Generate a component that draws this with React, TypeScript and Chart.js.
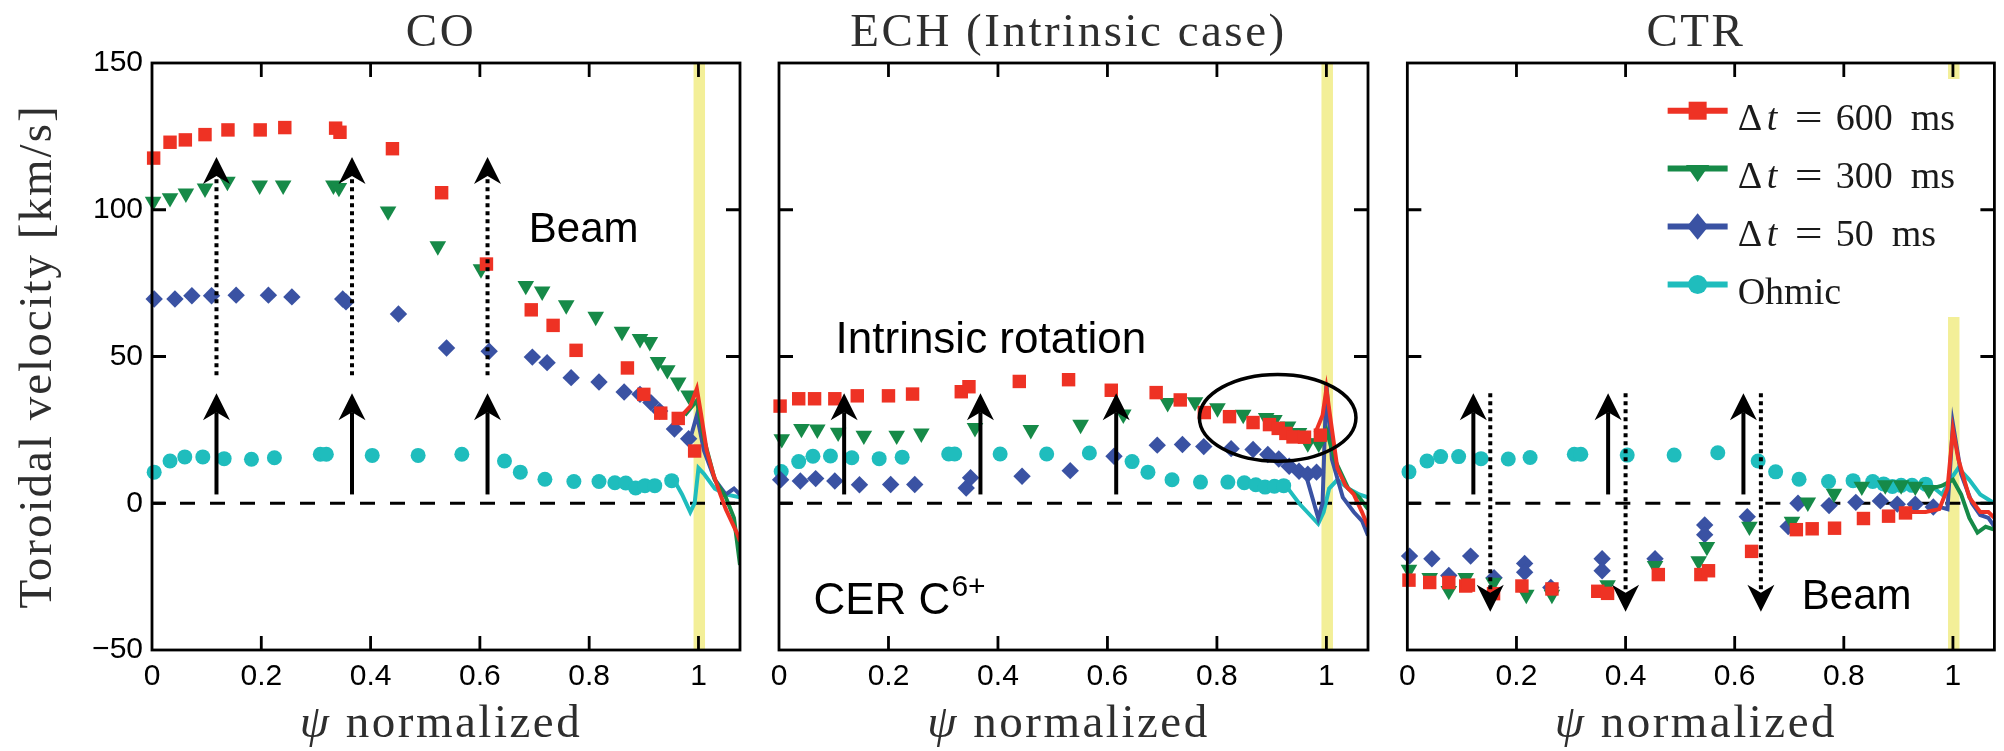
import React, { useEffect, useRef } from 'react';
import { Chart, registerables } from 'chart.js';

Chart.register(...registerables);

// ---------------- axes ----------------
const X_MIN = 0;
const X_MAX = 1.076;
const Y_MIN = -50;
const Y_MAX = 150;
const X_STEP = 0.2;
const Y_STEP = 50;
const X_TICKS = [0, 0.2, 0.4, 0.6, 0.8, 1];
const Y_TICKS = [-50, 0, 50, 100, 150];
const SEPARATRIX_BAND = [0.991, 1.012];

// ---------------- text ----------------
const PANEL_TITLES = ['CO', 'ECH (Intrinsic case)', 'CTR'];
const X_TITLE_SYMBOL = 'ψ';
const X_TITLE = ' normalized';
const Y_TITLE = 'Toroidal velocity [km/s]';
const LEGEND_VALUES = ['600', '300', '50'];
const LEGEND_OHMIC = 'Ohmic';

// ---------------- CO panel ----------------
const CO_600 = [[0.003,117.6],[0.033,123],[0.061,123.8],[0.097,125.6],[0.139,127.2],[0.198,127.2],[0.243,128],[0.336,127.8],[0.344,126.4],[0.44,120.8],[0.53,105.8],[0.612,81.5],[0.694,65.9],[0.734,60.6],[0.776,52.1],[0.87,46.1],[0.9,37.1],[0.931,30.7],[0.963,28.9],[0.993,17.8]];
const CO_300 = [[0.002,102.8],[0.033,104],[0.062,105.6],[0.097,107.3],[0.138,109.6],[0.197,108.3],[0.24,108.3],[0.332,108.3],[0.342,107.5],[0.432,99.5],[0.523,87.6],[0.602,79.8],[0.684,74.1],[0.714,72.2],[0.758,67.5],[0.812,63.6],[0.86,58.5],[0.893,56],[0.911,55],[0.926,48.2],[0.943,45.4],[0.963,41.2],[0.982,36.8]];
const CO_50 = [[0.004,69.6],[0.042,69.6],[0.073,70.7],[0.109,70.7],[0.154,70.9],[0.213,70.9],[0.256,70.3],[0.349,69.6],[0.355,68.6],[0.451,64.5],[0.539,52.9],[0.617,51.8],[0.696,49.8],[0.723,47.9],[0.767,42.8],[0.818,41.3],[0.864,37.9],[0.893,37.1],[0.913,34.3],[0.929,31.4],[0.956,25.3],[0.982,22]];
const CO_OHM = [[0.004,10.6],[0.033,14.4],[0.06,15.8],[0.093,15.8],[0.132,15.2],[0.182,15],[0.224,15.5],[0.308,16.7],[0.319,16.7],[0.403,16.3],[0.487,16.3],[0.567,16.7],[0.645,14.4],[0.674,10.6],[0.719,8.2],[0.772,7.4],[0.818,7.4],[0.847,7],[0.867,6.9],[0.885,5.2],[0.902,6],[0.92,6],[0.951,7.7]];
const CO_600_EDGE = [[0.965,29],[0.985,33],[0.997,39],[1.005,30],[1.015,18],[1.027,10],[1.04,3],[1.05,-2],[1.06,-6],[1.07,-10],[1.076,-13]];
const CO_300_EDGE = [[0.975,30],[0.997,35],[1.01,22],[1.03,8],[1.05,2],[1.065,-5],[1.076,-21]];
const CO_50_EDGE = [[0.985,22],[0.997,30],[1.01,18],[1.03,8],[1.05,3],[1.065,5],[1.076,3]];
const CO_OHM_EDGE = [[0.955,8],[0.97,3],[0.985,-3],[0.993,0],[1.0,12],[1.01,10],[1.03,5],[1.05,3],[1.076,2]];

// ---------------- ECH panel ----------------
const ECH_600 = [[0.002,33.1],[0.036,35.6],[0.065,35.6],[0.102,35.6],[0.143,36.6],[0.2,36.6],[0.244,37.2],[0.333,38],[0.347,39.7],[0.439,41.5],[0.529,42.1],[0.607,38.5],[0.689,37.7],[0.733,35.2],[0.777,30.9],[0.823,29.5],[0.866,27.5],[0.896,26.8],[0.912,25.5],[0.926,23.8],[0.939,22.6],[0.96,22.5],[0.989,23.2]];
const ECH_300 = [[0.005,21.9],[0.041,25.4],[0.07,25.2],[0.108,24.1],[0.155,23.1],[0.215,23.1],[0.26,23.8],[0.358,25.7],[0.46,25],[0.551,26.8],[0.629,30.3],[0.71,34.2],[0.76,34.5],[0.801,32.4],[0.848,30.2],[0.89,29.1],[0.905,28.4],[0.93,26.2],[0.95,24],[0.966,20.5],[0.986,20.4]];
const ECH_50 = [[0.003,8],[0.039,7.6],[0.067,8.4],[0.102,7.6],[0.147,6.3],[0.204,6.4],[0.248,6.4],[0.342,5.2],[0.35,8.7],[0.444,9.2],[0.532,11.1],[0.612,16],[0.691,19.8],[0.737,20],[0.776,19.3],[0.826,18.6],[0.866,18.3],[0.893,16.6],[0.913,15.1],[0.932,12.6],[0.95,10.9],[0.966,9.9],[0.982,10.6]];
const ECH_OHM = [[0.004,10.8],[0.036,14.2],[0.062,16],[0.094,16.1],[0.133,15.5],[0.183,15.2],[0.225,15.7],[0.31,16.8],[0.321,16.8],[0.404,16.8],[0.489,16.8],[0.567,17.1],[0.645,14.2],[0.674,10.6],[0.718,8],[0.77,7.2],[0.82,7.2],[0.85,7],[0.871,6.3],[0.888,5.5],[0.905,5.8],[0.922,6]];
const ECH_600_EDGE = [[0.98,24],[0.993,30],[1.0,39],[1.008,28],[1.02,12],[1.035,6],[1.05,3],[1.065,-3],[1.076,-8]];
const ECH_300_EDGE = [[0.985,20],[1.0,25],[1.015,15],[1.04,5],[1.06,2],[1.076,-2]];
const ECH_50_EDGE = [[0.965,8],[0.985,-5],[0.993,0],[1.0,41],[1.01,15],[1.03,2],[1.05,-3],[1.065,-6],[1.076,-11]];
const ECH_OHM_EDGE = [[0.93,5],[0.95,0],[0.97,-4],[0.985,-7],[0.995,-3],[1.005,5],[1.02,8],[1.04,5],[1.06,3],[1.076,2]];

// ---------------- CTR panel ----------------
const CTR_600 = [[0.003,-26.2],[0.041,-27],[0.076,-27],[0.107,-28.2],[0.112,-27.9],[0.158,-30.8],[0.21,-28.2],[0.265,-29.2],[0.349,-30],[0.367,-30.7],[0.46,-24.3],[0.538,-24.3],[0.552,-23],[0.631,-16.4],[0.713,-9],[0.742,-8.7],[0.783,-8.5],[0.836,-5.2],[0.882,-4.4],[0.913,-3.3]];
const CTR_300 = [[0.003,-22.6],[0.041,-25.4],[0.076,-29.8],[0.107,-25.4],[0.158,-27],[0.218,-31.1],[0.265,-31.1],[0.367,-27.9],[0.454,-21.3],[0.534,-19.7],[0.549,-14.8],[0.627,-7.9],[0.705,-6.2],[0.734,0.3],[0.782,3.3],[0.833,5.7],[0.876,6.2],[0.905,6.2],[0.931,5.7],[0.956,4.6]];
const CTR_50 = [[0.004,-18],[0.045,-18.9],[0.076,-24.6],[0.116,-18],[0.159,-25.4],[0.215,-20.5],[0.215,-23.5],[0.263,-28.7],[0.357,-18.9],[0.357,-23],[0.454,-18.9],[0.545,-7.4],[0.545,-10.7],[0.623,-4.6],[0.698,-7.9],[0.716,0],[0.773,-0.8],[0.822,0.3],[0.867,0.8],[0.898,-0.3],[0.931,-0.3],[0.964,-1.3]];
const CTR_OHM = [[0.003,10.7],[0.036,14.4],[0.061,15.9],[0.094,15.9],[0.135,15.2],[0.185,15.1],[0.225,15.6],[0.306,16.7],[0.318,16.7],[0.403,16.4],[0.489,16.4],[0.569,17.2],[0.643,14.4],[0.675,10.7],[0.718,8.2],[0.772,7.4],[0.817,7.7],[0.853,7.4],[0.873,6.6],[0.889,5.7],[0.905,6.1],[0.925,6.1],[0.95,6.5]];
const CTR_600_EDGE = [[0.92,-3],[0.95,-3],[0.975,-2],[0.99,5],[1.0,25],[1.01,15],[1.03,2],[1.05,-3],[1.065,-3],[1.076,-5]];
const CTR_300_EDGE = [[0.96,5],[0.98,6],[1.0,8],[1.015,3],[1.03,-5],[1.045,-10],[1.06,-8],[1.076,-9]];
const CTR_50_EDGE = [[0.97,-1],[0.99,-2],[1.0,27],[1.015,10],[1.035,0],[1.05,-4],[1.065,-5],[1.076,-8]];
const CTR_OHM_EDGE = [[0.96,6],[0.98,3],[0.995,8],[1.01,12],[1.03,8],[1.05,3],[1.076,0]];

// ---------------- annotations (data units) ----------------
const CO_UP_X = [0.118, 0.366, 0.614];
const ECH_UP_X = [0.119, 0.368, 0.616];
const CTR_UP_X = [0.121, 0.368, 0.616];
const CTR_DOWN_X = [0.152, 0.4, 0.648];
const SOLID_UP_Y = [3, 37.5];
const CO_DOTTED_Y = [43.6, 118];
const CTR_DOTTED_Y = [37.5, -37];
const CO_BEAM = [0.79, 93];
const ECH_INTRINSIC = [0.387, 55.4];
const ECH_CER = [0.063, -33.6];
const CTR_BEAM = [0.8235, -32];
const ECH_ELLIPSE = [0.911, 29.1, 0.143, 14.8];

// ---------------- styles ----------------
const RED = '#ee3224';
const GREEN = '#168a48';
const BLUE = '#3a52a3';
const CYAN = '#1fbdbd';
const BAND_COLOR = '#f3ef98';
const SANS = "'Liberation Sans', Arial, Helvetica, sans-serif";
const SERIF = "'Liberation Serif', 'Times New Roman', serif";
const TICK = 14;

const SERIES_STYLE = [
  { color: RED, pointStyle: 'rect', radius: 9.5, rotation: 0 },
  { color: GREEN, pointStyle: 'triangle', radius: 9.6, rotation: 180 },
  { color: BLUE, pointStyle: 'rectRot', radius: 8.7, rotation: 0 },
  { color: CYAN, pointStyle: 'circle', radius: 7.5, rotation: 0 },
];

const PANELS = [
  { left: 0, width: 760, padLeft: 0, padRight: 20, showY: true,
    series: [CO_600, CO_300, CO_50, CO_OHM], edges: [CO_600_EDGE, CO_300_EDGE, CO_50_EDGE, CO_OHM_EDGE] },
  { left: 760, width: 630, padLeft: 19, padRight: 22, showY: false,
    series: [ECH_600, ECH_300, ECH_50, ECH_OHM], edges: [ECH_600_EDGE, ECH_300_EDGE, ECH_50_EDGE, ECH_OHM_EDGE] },
  { left: 1390, width: 614, padLeft: 17, padRight: 8, showY: false,
    series: [CTR_600, CTR_300, CTR_50, CTR_OHM], edges: [CTR_600_EDGE, CTR_300_EDGE, CTR_50_EDGE, CTR_OHM_EDGE] },
];

const toPts = (arr: number[][]) => arr.map(([x, y]) => ({ x, y }));

function drawArrow(ctx: CanvasRenderingContext2D, x: number, yFrom: number, yTip: number, dotted: boolean) {
  const dir = yTip < yFrom ? -1 : 1;
  const headLen = 27, halfW = 13.5, notch = 19;
  ctx.save();
  ctx.strokeStyle = '#000';
  ctx.fillStyle = '#000';
  ctx.lineWidth = 4;
  ctx.lineCap = 'butt';
  if (dotted) ctx.setLineDash([4, 4]);
  ctx.beginPath();
  ctx.moveTo(x, yFrom);
  ctx.lineTo(x, yTip - dir * notch);
  ctx.stroke();
  ctx.setLineDash([]);
  ctx.beginPath();
  ctx.moveTo(x, yTip);
  ctx.lineTo(x - halfW, yTip - dir * headLen);
  ctx.lineTo(x, yTip - dir * notch);
  ctx.lineTo(x + halfW, yTip - dir * headLen);
  ctx.closePath();
  ctx.fill();
  ctx.restore();
}

function drawLegendMarker(ctx: CanvasRenderingContext2D, i: number, cx: number, cy: number) {
  ctx.fillStyle = SERIES_STYLE[i].color;
  ctx.beginPath();
  if (i === 0) {
    ctx.rect(cx - 9, cy - 9, 18, 18);
  } else if (i === 1) {
    ctx.moveTo(cx - 11.7, cy - 3.5);
    ctx.lineTo(cx + 11.7, cy - 3.5);
    ctx.lineTo(cx, cy + 13.4);
    ctx.closePath();
  } else if (i === 2) {
    ctx.moveTo(cx, cy - 13.3);
    ctx.lineTo(cx + 10.8, cy);
    ctx.lineTo(cx, cy + 13.3);
    ctx.lineTo(cx - 10.8, cy);
    ctx.closePath();
  } else {
    ctx.arc(cx, cy, 9.5, 0, Math.PI * 2);
  }
  ctx.fill();
}

function drawLegend(ctx: CanvasRenderingContext2D, a: any) {
  ctx.save();
  ctx.fillStyle = '#fff';
  ctx.fillRect(a.right - 346, a.top + 16, 328, 238);
  const lx0 = a.left + 260.3, lx1 = a.left + 320.3, mx = a.left + 290.3;
  const tx = a.left + 330.3;
  const rows = [47.7, 105.5, 163.5, 221.5];
  rows.forEach((dy, i) => {
    const ry = a.top + dy;
    ctx.strokeStyle = SERIES_STYLE[i].color;
    ctx.lineWidth = 6;
    ctx.beginPath();
    ctx.moveTo(lx0, ry);
    ctx.lineTo(lx1, ry);
    ctx.stroke();
    drawLegendMarker(ctx, i, mx, ry);
    ctx.fillStyle = '#1a1a1a';
    ctx.textAlign = 'left';
    ctx.textBaseline = 'alphabetic';
    const base = ry + 19.5;
    if (i < 3) {
      ctx.font = `38px ${SERIF}`;
      ctx.fillText('Δ', tx, base);
      ctx.font = `italic 38px ${SERIF}`;
      ctx.fillText('t', tx + 29, base);
      ctx.font = `38px ${SERIF}`;
      ctx.save();
      ctx.translate(tx + 57, base);
      ctx.scale(1.3, 1);
      ctx.fillText('=', 0, 0);
      ctx.restore();
      const val = LEGEND_VALUES[i];
      ctx.fillText(val, tx + 98, base);
      const w = ctx.measureText(val).width;
      ctx.fillText('ms', tx + 98 + w + 18, base);
    } else {
      ctx.font = `38px ${SERIF}`;
      ctx.fillText(LEGEND_OHMIC, tx, base);
    }
  });
  ctx.restore();
}

function makeDecor(idx: number, showY: boolean) {
  return {
    id: 'decor' + idx,
    beforeDatasetsDraw(chart: any) {
      const { ctx, chartArea: a, scales } = chart;
      const xs = scales.x, ys = scales.y;
      ctx.save();
      const b0 = xs.getPixelForValue(SEPARATRIX_BAND[0]);
      const b1 = xs.getPixelForValue(SEPARATRIX_BAND[1]);
      ctx.fillStyle = BAND_COLOR;
      ctx.fillRect(b0, a.top, b1 - b0, a.bottom - a.top);
      const y0 = ys.getPixelForValue(0);
      ctx.strokeStyle = '#000';
      ctx.lineWidth = 3;
      ctx.setLineDash([15, 15]);
      ctx.lineDashOffset = 2;
      ctx.beginPath();
      ctx.moveTo(a.left, y0);
      ctx.lineTo(a.right, y0);
      ctx.stroke();
      ctx.restore();
    },
    afterDraw(chart: any) {
      const { ctx, chartArea: a, scales } = chart;
      const xs = scales.x, ys = scales.y;
      const X = (v: number) => xs.getPixelForValue(v);
      const Y = (v: number) => ys.getPixelForValue(v);

      if (idx === 2) drawLegend(ctx, a);

      // frame + inward ticks
      ctx.save();
      ctx.strokeStyle = '#000';
      ctx.lineWidth = 2.8;
      ctx.strokeRect(a.left, a.top, a.right - a.left, a.bottom - a.top);
      ctx.beginPath();
      X_TICKS.forEach((v) => {
        const px = X(v);
        if (px <= a.left + 1 || px >= a.right - 1) return;
        ctx.moveTo(px, a.bottom); ctx.lineTo(px, a.bottom - TICK);
        ctx.moveTo(px, a.top); ctx.lineTo(px, a.top + TICK);
      });
      Y_TICKS.forEach((v) => {
        const py = Y(v);
        if (py <= a.top + 1 || py >= a.bottom - 1) return;
        ctx.moveTo(a.left, py); ctx.lineTo(a.left + TICK, py);
        ctx.moveTo(a.right, py); ctx.lineTo(a.right - TICK, py);
      });
      ctx.stroke();
      ctx.restore();

      // arrows
      if (idx === 0) {
        CO_UP_X.forEach((v) => {
          drawArrow(ctx, X(v), Y(SOLID_UP_Y[0]), Y(SOLID_UP_Y[1]), false);
          drawArrow(ctx, X(v), Y(CO_DOTTED_Y[0]), Y(CO_DOTTED_Y[1]), true);
        });
      } else if (idx === 1) {
        ECH_UP_X.forEach((v) => drawArrow(ctx, X(v), Y(SOLID_UP_Y[0]), Y(SOLID_UP_Y[1]), false));
      } else {
        CTR_UP_X.forEach((v) => drawArrow(ctx, X(v), Y(SOLID_UP_Y[0]), Y(SOLID_UP_Y[1]), false));
        CTR_DOWN_X.forEach((v) => drawArrow(ctx, X(v), Y(CTR_DOTTED_Y[0]), Y(CTR_DOTTED_Y[1]), true));
      }

      // annotation texts
      ctx.save();
      ctx.fillStyle = '#000';
      ctx.textBaseline = 'middle';
      ctx.textAlign = 'center';
      if (idx === 0) {
        ctx.font = `42px ${SANS}`;
        ctx.fillText('Beam', X(CO_BEAM[0]), Y(CO_BEAM[1]));
      } else if (idx === 1) {
        ctx.font = `44px ${SANS}`;
        ctx.fillText('Intrinsic rotation', X(ECH_INTRINSIC[0]), Y(ECH_INTRINSIC[1]));
        ctx.textAlign = 'left';
        const cx = X(ECH_CER[0]), cy = Y(ECH_CER[1]);
        ctx.fillText('CER C', cx, cy);
        const w = ctx.measureText('CER C').width;
        ctx.font = `30px ${SANS}`;
        ctx.fillText('6+', cx + w + 1, cy - 14);
        // ellipse
        const ex = X(ECH_ELLIPSE[0]), ey = Y(ECH_ELLIPSE[1]);
        const rx = X(ECH_ELLIPSE[0] + ECH_ELLIPSE[2]) - ex;
        const ry = ey - Y(ECH_ELLIPSE[1] + ECH_ELLIPSE[3]);
        ctx.strokeStyle = '#000';
        ctx.lineWidth = 3.5;
        ctx.beginPath();
        ctx.ellipse(ex, ey, rx, ry, 0, 0, Math.PI * 2);
        ctx.stroke();
      } else {
        ctx.font = `42px ${SANS}`;
        ctx.fillText('Beam', X(CTR_BEAM[0]), Y(CTR_BEAM[1]));
      }
      ctx.restore();

      // titles
      ctx.save();
      const cx = (a.left + a.right) / 2 - 5;
      ctx.fillStyle = '#2e2e2e';
      ctx.textBaseline = 'middle';
      ctx.textAlign = 'center';
      (ctx as any).letterSpacing = '2.5px';
      ctx.font = `47px ${SERIF}`;
      ctx.fillText(PANEL_TITLES[idx], cx, 34);
      // x title
      ctx.textAlign = 'left';
      ctx.font = `italic 47px ${SERIF}`;
      const w1 = ctx.measureText(X_TITLE_SYMBOL).width;
      ctx.font = `47px ${SERIF}`;
      const w2 = ctx.measureText(X_TITLE).width;
      const sx = cx - (w1 + w2) / 2;
      ctx.font = `italic 47px ${SERIF}`;
      ctx.fillText(X_TITLE_SYMBOL, sx, 725);
      ctx.font = `47px ${SERIF}`;
      ctx.fillText(X_TITLE, sx + w1, 725);
      if (showY) {
        ctx.translate(39, (a.top + a.bottom) / 2);
        ctx.rotate(-Math.PI / 2);
        ctx.textAlign = 'center';
        (ctx as any).letterSpacing = '2px';
        ctx.fillText(Y_TITLE, 0, 0);
      }
      ctx.restore();
    },
  };
}

function buildConfig(idx: number) {
  const spec = PANELS[idx];
  const datasets: any[] = [];
  spec.series.forEach((s, i) => {
    const st = SERIES_STYLE[i];
    datasets.push({
      label: 'edge' + i,
      data: toPts(spec.edges[i]),
      showLine: true,
      borderColor: st.color,
      backgroundColor: st.color,
      borderWidth: 4,
      pointRadius: 0,
      tension: 0,
    });
    datasets.push({
      label: 'series' + i,
      data: toPts(s),
      showLine: false,
      pointStyle: st.pointStyle,
      pointRadius: st.radius,
      pointRotation: st.rotation,
      pointBackgroundColor: st.color,
      pointBorderColor: st.color,
      pointBorderWidth: 0,
      backgroundColor: st.color,
      borderColor: st.color,
      clip: false,
    });
  });
  const tickFont = { family: SANS, size: 30 };
  return {
    type: 'scatter',
    data: { datasets },
    options: {
      animation: false,
      responsive: false,
      devicePixelRatio: 1,
      events: [],
      layout: { padding: { left: spec.padLeft, right: spec.padRight, top: 63, bottom: 0 } },
      plugins: { legend: { display: false }, tooltip: { enabled: false }, title: { display: false } },
      scales: {
        x: {
          type: 'linear', min: X_MIN, max: X_MAX,
          grid: { display: false, drawTicks: false },
          border: { display: false },
          afterFit: (s: any) => { s.height = 101; },
          ticks: {
            stepSize: X_STEP, includeBounds: false, autoSkip: false, maxRotation: 0, minRotation: 0,
            padding: 9, color: '#000', font: tickFont,
            callback: (v: number) => { const r = Math.round(v * 10) / 10; return r === 0 ? '0' : r === 1 ? '1' : r.toFixed(1); },
          },
        },
        y: {
          type: 'linear', min: Y_MIN, max: Y_MAX, display: spec.showY,
          grid: { display: false, drawTicks: false },
          border: { display: false },
          afterFit: (s: any) => { if (spec.showY) s.width = 152; },
          ticks: {
            stepSize: Y_STEP, padding: 9, color: '#000', font: tickFont,
            callback: (v: number) => (v < 0 ? '\u2212' + Math.abs(v) : String(v)),
          },
        },
      },
    },
    plugins: [makeDecor(idx, spec.showY)],
  };
}

function Panel({ idx }: { idx: number }) {
  const ref = useRef<HTMLCanvasElement>(null);
  const spec = PANELS[idx];
  useEffect(() => {
    const chart = new Chart(ref.current as HTMLCanvasElement, buildConfig(idx) as any);
    return () => chart.destroy();
  }, [idx]);
  return (
    <canvas
      ref={ref}
      width={spec.width}
      height={751}
      style={{ position: 'absolute', left: spec.left, top: 0, width: spec.width, height: 751 }}
    />
  );
}

export default function App() {
  return (
    <div style={{ position: 'absolute', left: 0, top: 0, width: 2004, height: 751, background: '#fff', overflow: 'hidden' }}>
      {PANELS.map((_, i) => (
        <Panel key={i} idx={i} />
      ))}
    </div>
  );
}
